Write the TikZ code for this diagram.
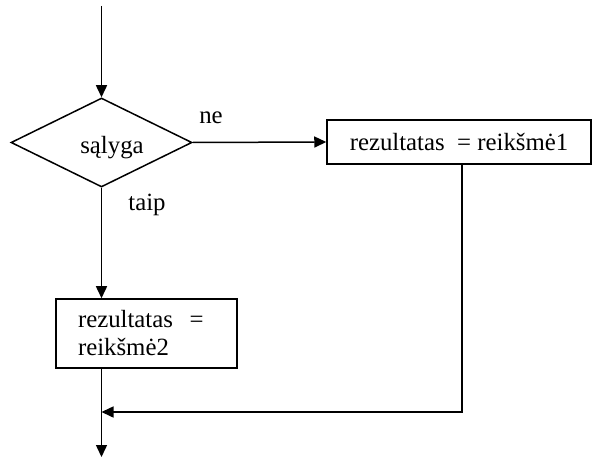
\documentclass[tikz,border=0pt]{standalone}
\usepackage{fontspec}
\setmainfont{Liberation Serif}
\usetikzlibrary{shapes.geometric,arrows.meta,calc}
\begin{document}
\begin{tikzpicture}[x=0.5pt,y=-0.5pt,
  every node/.style={font=\fontsize{12.4}{14}\selectfont},
  conn/.style={line width=0.75pt},
  arr/.style={conn,-{Triangle[length=6pt,width=5.5pt]}},
  procbox/.style={draw,line width=0.75pt,inner sep=0pt},
  decision/.style={draw,diamond,line width=0.75pt,inner sep=0pt,minimum width=90.5pt,minimum height=44.5pt},
  lbl/.style={inner sep=0pt}]
\useasboundingbox (0,0) rectangle (592,458);
\coordinate (start) at (101.5,6);
\node[decision] (d) at (101.5,142.5) {};
\node[lbl] (dt) at (112,148) {sąlyga};
\node[lbl] (ne) at (211,118) {ne};
\node[lbl] (taip) at (147,205) {taip};
\node[procbox,minimum width=132pt,minimum height=22pt] (b1) at (459,142) {rezultatas\ \ = reikšmė1};
\node[procbox,minimum width=90.5pt,minimum height=34.5pt,text width=68.5pt,align=left,inner xsep=11pt] (b2) at (146.5,333.5) {rezultatas\ \ =\\reikšmė2};
\coordinate (m) at (101.5,412);
\coordinate (end) at (101.5,457);
\coordinate (b1s) at ($(b1.south)+(3,0)$);
\draw[arr] (start) -- (d.north);
\draw[arr] (d.east) -- (b1.west);
\draw[arr] (d.south) -- (d.south |- b2.north);
\draw[arr] (b1s) |- (m);
\draw[arr] (d.south |- b2.south) -- (end);
\end{tikzpicture}
\end{document}
